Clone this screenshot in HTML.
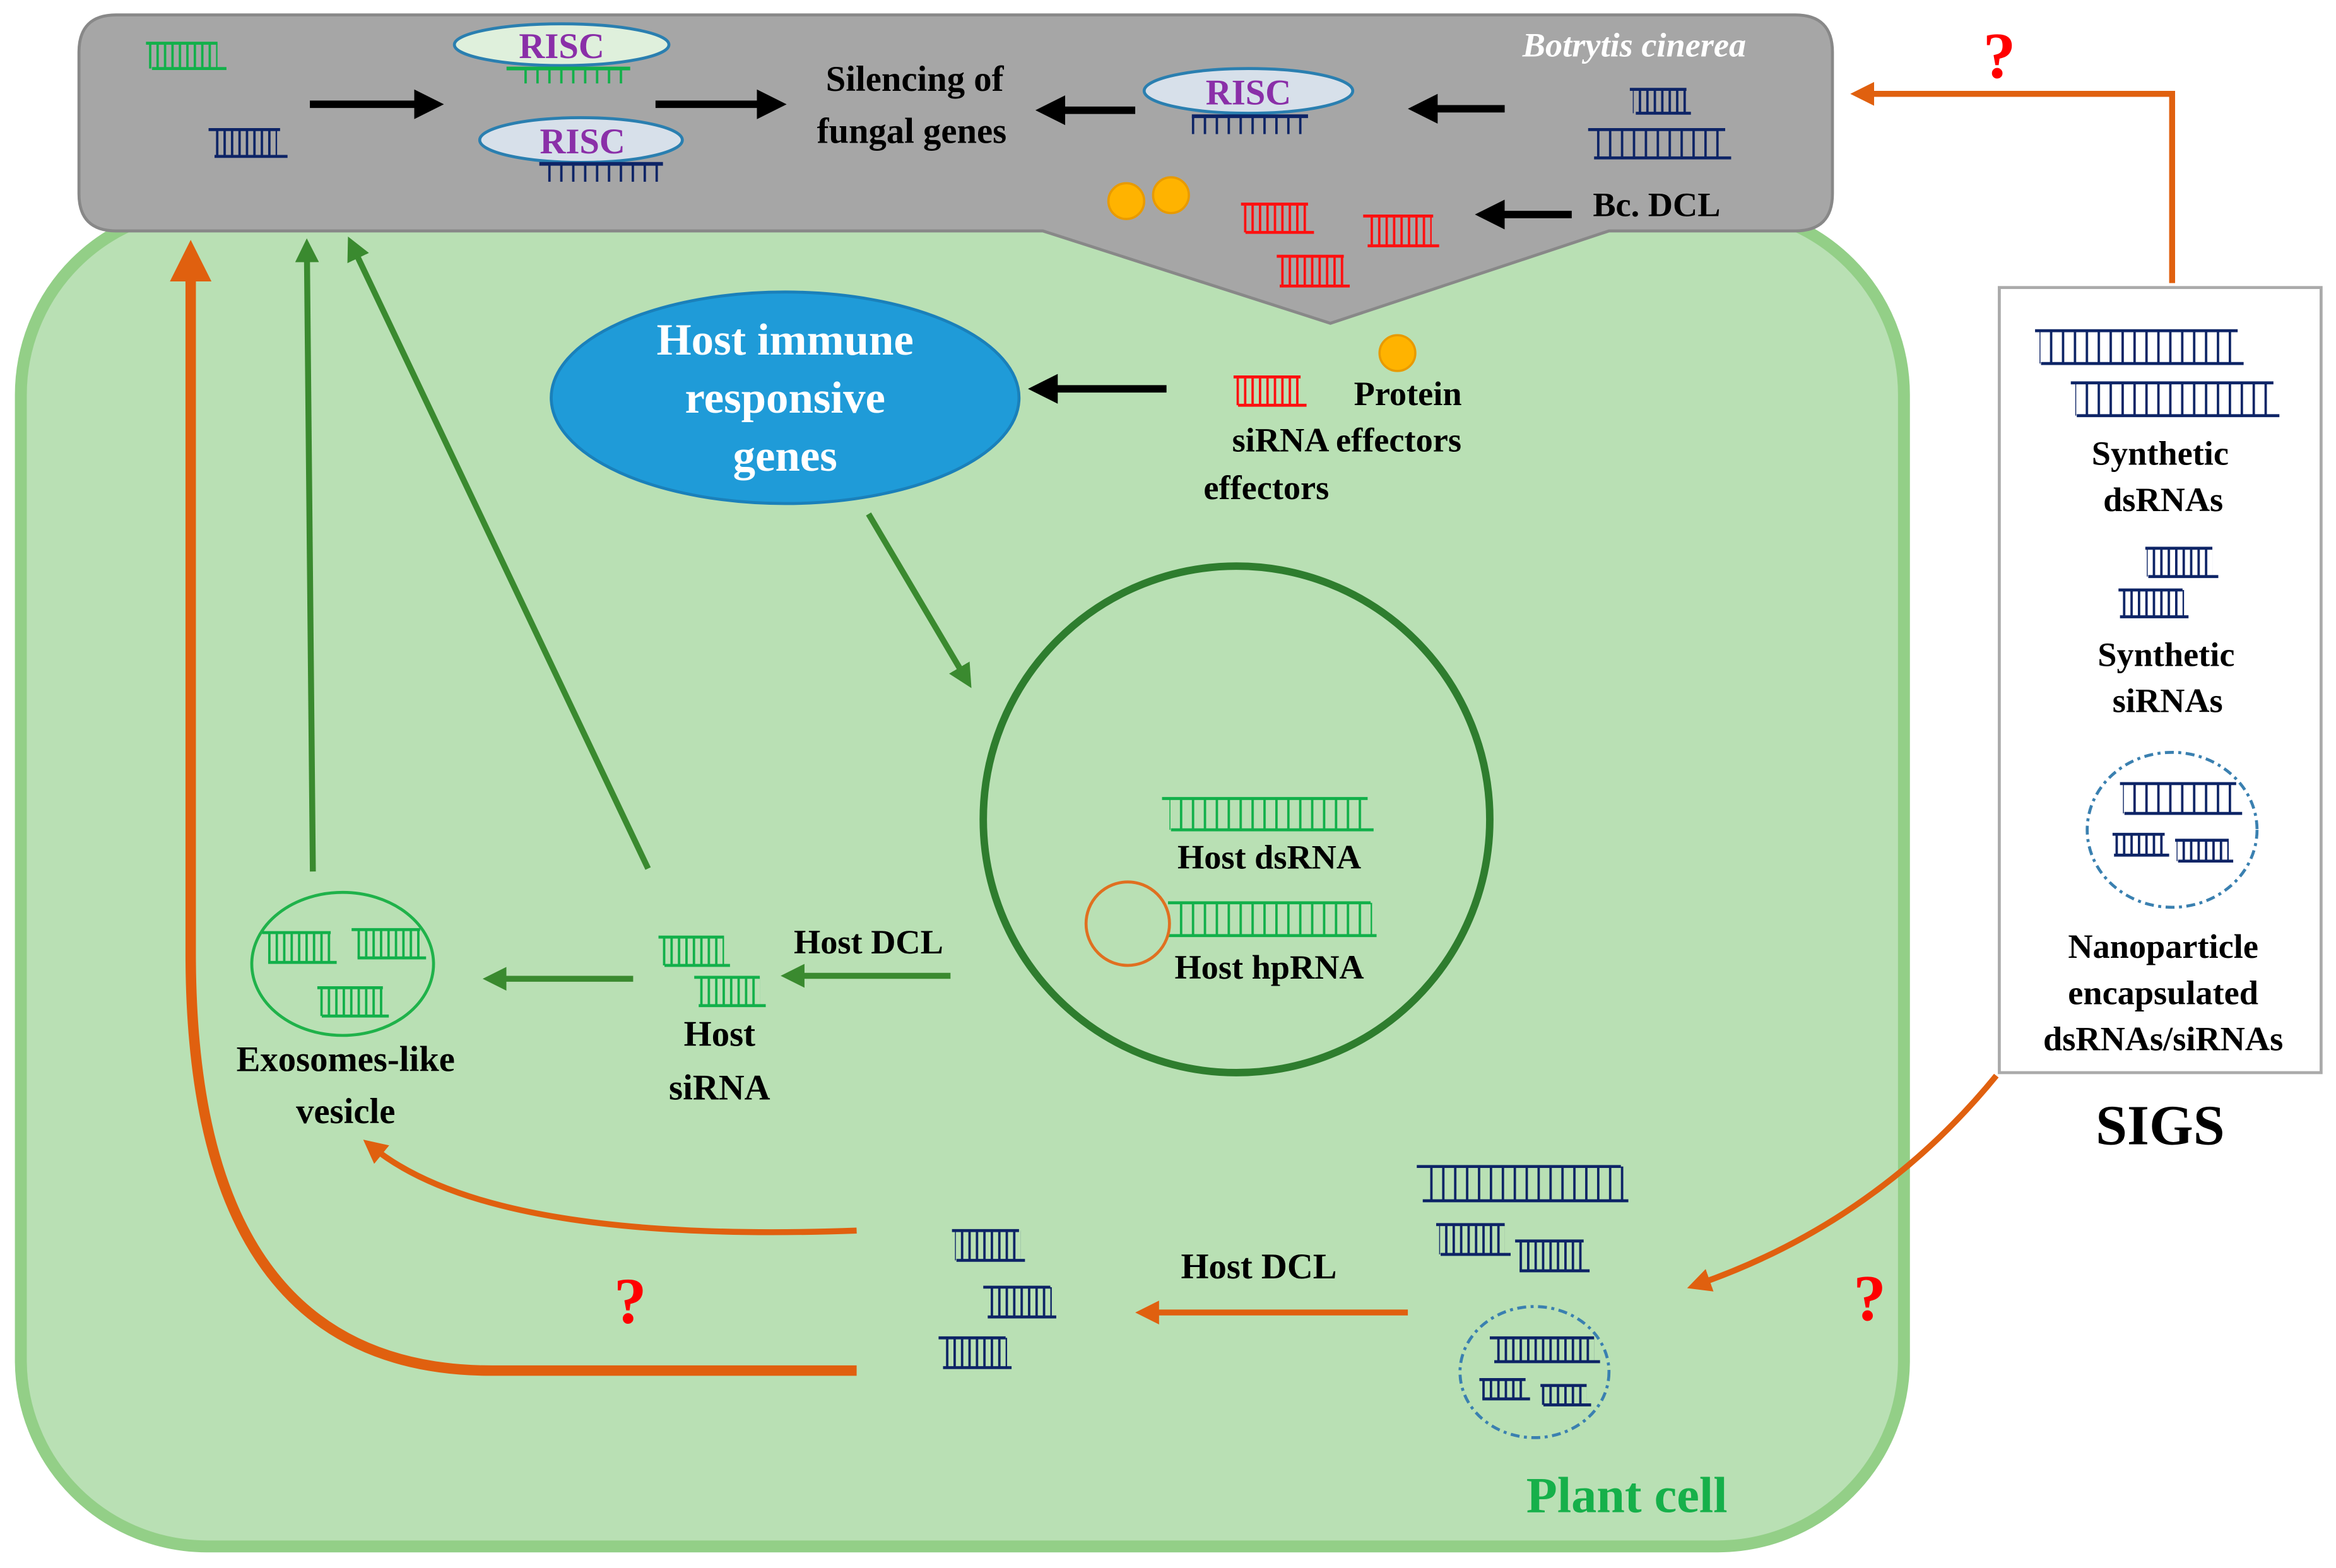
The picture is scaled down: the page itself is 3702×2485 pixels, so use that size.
<!DOCTYPE html>
<html><head><meta charset="utf-8"><style>
html,body{margin:0;padding:0;background:#fff;}
svg{display:block;}
text{font-family:"Liberation Serif",serif;font-weight:bold;}
</style></head><body>
<svg width="3702" height="2485" viewBox="0 0 1568 1052.5" preserveAspectRatio="none" xmlns="http://www.w3.org/2000/svg">
<defs>
<pattern id="pb" width="5" height="10" patternUnits="userSpaceOnUse"><rect x="0" y="0" width="1.6" height="10" fill="#0d2466"/></pattern>
<pattern id="pg" width="5" height="10" patternUnits="userSpaceOnUse"><rect x="0" y="0" width="1.6" height="10" fill="#12b04a"/></pattern>
<pattern id="pr" width="5" height="10" patternUnits="userSpaceOnUse"><rect x="0" y="0" width="1.6" height="10" fill="#ff1010"/></pattern>
<pattern id="pbw" width="8" height="10" patternUnits="userSpaceOnUse"><rect x="0" y="0" width="1.6" height="10" fill="#0d2466"/></pattern>
<pattern id="pgw" width="8" height="10" patternUnits="userSpaceOnUse"><rect x="0" y="0" width="1.6" height="10" fill="#12b04a"/></pattern>
<marker id="ak" markerWidth="4" markerHeight="4" refX="2" refY="2" orient="auto" markerUnits="strokeWidth"><path d="M0,0 L4,2 L0,4 z" fill="#000"/></marker>
<marker id="ag" markerWidth="4" markerHeight="4" refX="2" refY="2" orient="auto" markerUnits="strokeWidth"><path d="M0,0 L4,2 L0,4 z" fill="#3a8a2f"/></marker>
<marker id="ao" markerWidth="4" markerHeight="4" refX="2" refY="2" orient="auto" markerUnits="strokeWidth"><path d="M0,0 L4,2 L0,4 z" fill="#e0600f"/></marker>
<marker id="ao2" markerWidth="6" markerHeight="6" refX="3" refY="3" orient="auto" markerUnits="userSpaceOnUse"><path d="M0,0 L6,3 L0,6 z" fill="#e0600f"/></marker>
</defs>

<!-- plant cell -->
<rect x="14" y="140" width="1264" height="898" rx="125" fill="#b9e0b4" stroke="#93cf87" stroke-width="8"/>

<!-- fungal box -->
<path d="M78,10 H1205 Q1230,10 1230,35 V130 Q1230,155 1205,155 H1080 L893,217 L700,155 H78 Q53,155 53,130 V35 Q53,10 78,10 Z" fill="#a6a6a6" stroke="#888" stroke-width="2"/>
<text x="1097" y="38" font-size="23" fill="#fff" font-style="italic" font-weight="bold" text-anchor="middle">Botrytis cinerea</text>

<g stroke-width="2">
<!-- top-left ladders -->
<rect x="100" y="29" width="46" height="17" fill="url(#pg)"/><path d="M98,29H146M102,46H152" stroke="#12b04a"/>
<rect x="142" y="87" width="44" height="18" fill="url(#pb)"/><path d="M140,87H188M144,105H193" stroke="#0d2466"/>
</g>
<!-- RISC 1 -->
<ellipse cx="377" cy="30" rx="72" ry="14" fill="#dff0dc" stroke="#2a7fb0" stroke-width="2"/>
<text x="377" y="39" font-size="24" fill="#8a2fa8" text-anchor="middle">RISC</text>
<path d="M340,46H423" stroke="#12b04a" stroke-width="2.5"/>
<rect x="346" y="46" width="76" height="10" fill="url(#pgw)"/>
<!-- RISC 2 -->
<ellipse cx="390" cy="94" rx="68" ry="15" fill="#d7e0ea" stroke="#2a7fb0" stroke-width="2"/>
<text x="391" y="103" font-size="24" fill="#8a2fa8" text-anchor="middle">RISC</text>
<path d="M362,110H445" stroke="#0d2466" stroke-width="2.5"/>
<rect x="367" y="110" width="76" height="12" fill="url(#pbw)"/>
<!-- RISC 3 -->
<ellipse cx="838" cy="61" rx="70" ry="15" fill="#d7e0ea" stroke="#2a7fb0" stroke-width="2"/>
<text x="838" y="70" font-size="24" fill="#8a2fa8" text-anchor="middle">RISC</text>
<path d="M800,78H878" stroke="#0d2466" stroke-width="2.5"/>
<rect x="800" y="78" width="78" height="12" fill="url(#pbw)"/>

<!-- black arrows -->
<g stroke="#000" stroke-width="5" fill="none">
<path d="M208,70H288" marker-end="url(#ak)"/>
<path d="M440,70H518" marker-end="url(#ak)"/>
<path d="M762,74H705" marker-end="url(#ak)"/>
<path d="M1010,73H955" marker-end="url(#ak)"/>
<path d="M1055,144H1000" marker-end="url(#ak)"/>
<path d="M783,261H700" marker-end="url(#ak)"/>
</g>
<text x="614" y="61" font-size="24" text-anchor="middle">Silencing  of</text>
<text x="612" y="96" font-size="24" text-anchor="middle">fungal  genes</text>

<g stroke-width="2">
<rect x="1096" y="60" width="36" height="16" fill="url(#pb)"/><path d="M1094,60H1132M1098,76H1135" stroke="#0d2466"/>
<rect x="1067" y="87" width="92" height="19" fill="url(#pbw)"/><path d="M1066,87H1158M1070,106H1162" stroke="#0d2466"/>
<rect x="835" y="137" width="44" height="19" fill="url(#pr)"/><path d="M833,137H878M836,156H882" stroke="#ff1010"/>
<rect x="917" y="145" width="44" height="20" fill="url(#pr)"/><path d="M915,145H962M918,165H966" stroke="#ff1010"/>
<rect x="858" y="172" width="44" height="20" fill="url(#pr)"/><path d="M857,172H902M859,192H906" stroke="#ff1010"/>
<rect x="830" y="253" width="44" height="19" fill="url(#pr)"/><path d="M828,253H873M831,272H877" stroke="#ff1010"/>
</g>
<text x="1112" y="145" font-size="23" text-anchor="middle">Bc. DCL</text>
<circle cx="756" cy="135" r="12" fill="#ffb300" stroke="#e89a00" stroke-width="1.5"/>
<circle cx="786" cy="131" r="12" fill="#ffb300" stroke="#e89a00" stroke-width="1.5"/>
<circle cx="938" cy="237" r="12" fill="#ffb300" stroke="#e89a00" stroke-width="1.5"/>
<text x="945" y="272" font-size="23" text-anchor="middle">Protein</text>
<text x="904" y="303" font-size="23" text-anchor="middle">siRNA effectors</text>
<text x="850" y="335" font-size="23" text-anchor="middle">effectors</text>

<!-- host immune -->
<ellipse cx="527" cy="267" rx="157" ry="71" fill="#1f9bd8" stroke="#1a80ba" stroke-width="2"/>
<text x="527" y="238" font-size="30" fill="#fff" text-anchor="middle">Host immune</text>
<text x="527" y="277" font-size="30" fill="#fff" text-anchor="middle">responsive</text>
<text x="527" y="316" font-size="30" fill="#fff" text-anchor="middle">genes</text>

<!-- green arrows -->
<g stroke="#3a8a2f" stroke-width="4" fill="none">
<path d="M583,345L648,455" marker-end="url(#ag)"/>
<path d="M638,655H532" marker-end="url(#ag)"/>
<path d="M425,657H332" marker-end="url(#ag)"/>
<path d="M210,585L206,168" marker-end="url(#ag)"/>
<path d="M435,583L237,166" marker-end="url(#ag)"/>
</g>

<!-- nucleus -->
<circle cx="830" cy="550" r="170" fill="none" stroke="#2e7d2e" stroke-width="5"/>
<g stroke-width="2">
<rect x="785" y="536" width="134" height="21" fill="url(#pgw)"/><path d="M780,536H918M786,557H922" stroke="#12b04a"/>
<rect x="787" y="606" width="134" height="22" fill="url(#pgw)"/><path d="M784,606H920M784,628H924" stroke="#12b04a"/>
</g>
<circle cx="757" cy="620" r="28" fill="none" stroke="#e07020" stroke-width="2"/>
<text x="852" y="583" font-size="23" text-anchor="middle">Host dsRNA</text>
<text x="852" y="657" font-size="23" text-anchor="middle">Host hpRNA</text>
<text x="583" y="640" font-size="23" text-anchor="middle">Host DCL</text>

<g stroke-width="2">
<rect x="444" y="629" width="42" height="19" fill="url(#pg)"/><path d="M442,629H486M446,648H490" stroke="#12b04a"/>
<rect x="468" y="656" width="42" height="19" fill="url(#pg)"/><path d="M466,656H510M469,675H514" stroke="#12b04a"/>
</g>
<text x="483" y="702" font-size="24" text-anchor="middle">Host</text>
<text x="483" y="738" font-size="24" text-anchor="middle">siRNA</text>

<!-- exosome -->
<ellipse cx="230" cy="647" rx="61" ry="48" fill="none" stroke="#1fb24a" stroke-width="2"/>
<g stroke-width="2">
<rect x="178" y="626" width="44" height="20" fill="url(#pg)"/><path d="M176,626H222M180,646H226" stroke="#12b04a"/>
<rect x="238" y="624" width="44" height="19" fill="url(#pg)"/><path d="M236,624H282M240,643H286" stroke="#12b04a"/>
<rect x="215" y="663" width="42" height="19" fill="url(#pg)"/><path d="M213,663H257M216,682H261" stroke="#12b04a"/>
</g>
<text x="232" y="719" font-size="24" text-anchor="middle">Exosomes-like</text>
<text x="232" y="754" font-size="24" text-anchor="middle">vesicle</text>

<!-- orange arrows -->
<g stroke="#e0600f" fill="none">
<path d="M575,920 H330 Q128,920 128,640 V185" stroke-width="7"/>
<path d="M128,190 V175" stroke-width="7" marker-end="url(#ao)"/>
<path d="M575,826 Q330,835 250,770" stroke-width="4" marker-end="url(#ao)"/>
<path d="M945,881 H770" stroke-width="4" marker-end="url(#ao)"/>
<path d="M1340,722 Q1260,820 1140,862" stroke-width="4" marker-end="url(#ao)"/>
<path d="M1458,190 V63 H1250" stroke-width="4" marker-end="url(#ao)"/>
</g>
<text x="423" y="888" font-size="44" fill="#ff0000" text-anchor="middle">?</text>
<text x="1255" y="886" font-size="44" fill="#ff0000" text-anchor="middle">?</text>
<text x="1342" y="52" font-size="44" fill="#ff0000" text-anchor="middle">?</text>
<text x="845" y="858" font-size="24" text-anchor="middle">Host DCL</text>

<g stroke-width="2">
<rect x="641" y="826" width="44" height="20" fill="url(#pb)"/><path d="M639,826H684M642,846H688" stroke="#0d2466"/>
<rect x="662" y="864" width="44" height="20" fill="url(#pb)"/><path d="M660,864H705M663,884H709" stroke="#0d2466"/>
<rect x="632" y="898" width="44" height="20" fill="url(#pb)"/><path d="M630,898H675M633,918H679" stroke="#0d2466"/>
<rect x="955" y="783" width="136" height="23" fill="url(#pbw)"/><path d="M951,783H1088M955,806H1093" stroke="#0d2466"/>
<rect x="966" y="822" width="44" height="20" fill="url(#pb)"/><path d="M964,822H1010M967,842H1014" stroke="#0d2466"/>
<rect x="1019" y="833" width="44" height="20" fill="url(#pb)"/><path d="M1017,833H1063M1020,853H1067" stroke="#0d2466"/>
<rect x="1002" y="898" width="68" height="16" fill="url(#pb)"/><path d="M1000,898H1070M1003,914H1074" stroke="#0d2466"/>
<rect x="994" y="926" width="30" height="13" fill="url(#pb)"/><path d="M993,926H1024M995,939H1027" stroke="#0d2466"/>
<rect x="1035" y="930" width="30" height="13" fill="url(#pb)"/><path d="M1034,930H1065M1036,943H1068" stroke="#0d2466"/>
</g>
<ellipse cx="1030" cy="921" rx="50" ry="44" fill="none" stroke="#3a80b0" stroke-width="2" stroke-dasharray="6,3,2,3"/>
<text x="1092" y="1015" font-size="34" fill="#16b04a" text-anchor="middle">Plant cell</text>

<!-- SIGS box -->
<rect x="1342" y="193" width="216" height="527" fill="#fff" stroke="#aaa" stroke-width="2"/>
<g stroke-width="2">
<rect x="1369" y="222" width="134" height="22" fill="url(#pbw)"/><path d="M1366,222H1502M1370,244H1506" stroke="#0d2466"/>
<rect x="1393" y="257" width="134" height="22" fill="url(#pbw)"/><path d="M1390,257H1526M1394,279H1530" stroke="#0d2466"/>
<rect x="1441" y="368" width="44" height="19" fill="url(#pb)"/><path d="M1440,368H1485M1442,387H1489" stroke="#0d2466"/>
<rect x="1423" y="396" width="43" height="18" fill="url(#pb)"/><path d="M1422,396H1465M1423,414H1469" stroke="#0d2466"/>
<rect x="1425" y="526" width="74" height="20" fill="url(#pbw)"/><path d="M1423,526H1501M1426,546H1505" stroke="#0d2466"/>
<rect x="1419" y="560" width="34" height="14" fill="url(#pb)"/><path d="M1418,560H1453M1419,574H1456" stroke="#0d2466"/>
<rect x="1461" y="564" width="35" height="14" fill="url(#pb)"/><path d="M1460,564H1496M1462,578H1499" stroke="#0d2466"/>
</g>
<ellipse cx="1458" cy="557" rx="57" ry="52" fill="none" stroke="#3a80b0" stroke-width="2" stroke-dasharray="6,3,2,3"/>
<g font-size="23" text-anchor="middle">
<text x="1450" y="312">Synthetic</text>
<text x="1452" y="343">dsRNAs</text>
<text x="1454" y="447">Synthetic</text>
<text x="1455" y="478">siRNAs</text>
<text x="1452" y="643">Nanoparticle</text>
<text x="1452" y="674">encapsulated</text>
<text x="1452" y="705">dsRNAs/siRNAs</text>
</g>
<text x="1450" y="768" font-size="38" text-anchor="middle">SIGS</text>
</svg>
</body></html>
